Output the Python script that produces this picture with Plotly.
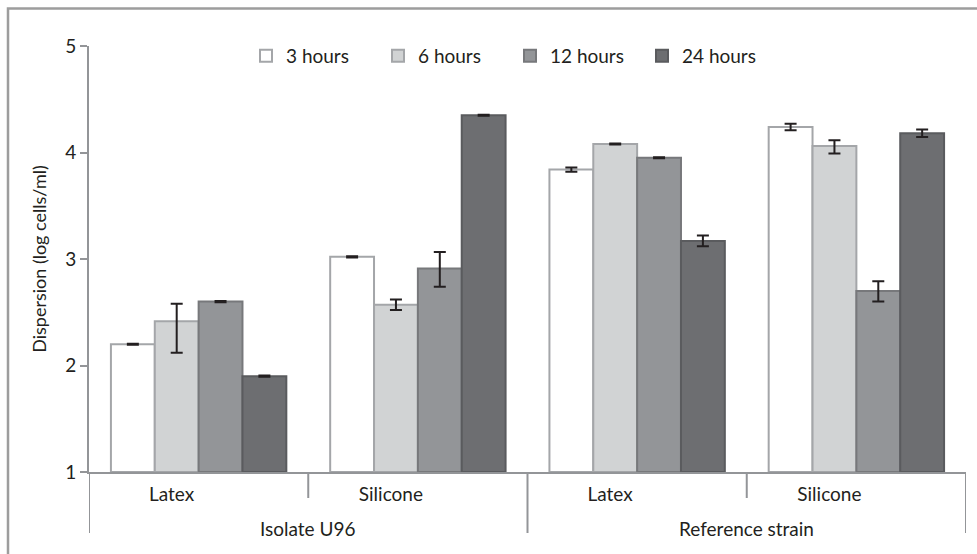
import plotly.graph_objects as go

# Strains and surfaces (two-level category axis)
strains = ["Isolate U96", "Isolate U96", "Reference strain", "Reference strain"]
surfaces = ["Latex", "Silicone", "Latex", "Silicone"]

# Dispersion (log cells/ml) per sampling time, with upper/lower error
series_names = ["3 hours", "6 hours", "12 hours", "24 hours"]
vals_3h = [2.20, 3.02, 3.84, 4.24]
vals_6h = [2.415, 2.57, 4.08, 4.06]
vals_12h = [2.60, 2.91, 3.95, 2.70]
vals_24h = [1.90, 4.35, 3.17, 4.18]
err_up_3h = [0.005, 0.005, 0.02, 0.03]
err_up_6h = [0.165, 0.05, 0.005, 0.055]
err_up_12h = [0.005, 0.155, 0.005, 0.09]
err_up_24h = [0.005, 0.005, 0.05, 0.035]
err_dn_3h = [0.005, 0.005, 0.02, 0.03]
err_dn_6h = [0.295, 0.05, 0.005, 0.07]
err_dn_12h = [0.005, 0.17, 0.005, 0.10]
err_dn_24h = [0.005, 0.005, 0.05, 0.035]

y_ticks = [1, 2, 3, 4, 5]
y_floor = 1

fills = ["#ffffff", "#d1d3d4", "#939598", "#6d6e71"]
outlines = ["#a4a6a9", "#a4a6a9", "#77787b", "#5a5b5e"]
axis_grey = "#939598"
font_family = "Lato, 'Open Sans', sans-serif"

W, H = 977, 554
ML, MR, MT, MB = 89, 11, 46, 82
pw, ph = W - ML - MR, H - MT - MB


def px_x(p):
    return (p - ML) / pw


def px_y(p):
    return (H - MB - p) / ph


pos = list(range(len(surfaces)))

fig = go.Figure()
for name, vals, eu, ed, fc, lc in zip(
    series_names,
    [vals_3h, vals_6h, vals_12h, vals_24h],
    [err_up_3h, err_up_6h, err_up_12h, err_up_24h],
    [err_dn_3h, err_dn_6h, err_dn_12h, err_dn_24h],
    fills, outlines,
):
    fig.add_trace(go.Bar(
        name=name,
        x=pos,
        y=[v - y_floor for v in vals],   # bar height measured from the axis floor
        base=y_floor,
        marker=dict(color=fc, line=dict(color=lc, width=2)),
        error_y=dict(type="data", symmetric=False, array=eu, arrayminus=ed,
                     color="#231f20", thickness=2, width=6),
    ))

# short separators between surfaces, long ones between strains
for b in range(1, len(surfaces)):
    if strains[b] == strains[b - 1]:
        fig.add_shape(type="line", xref="x", yref="paper", x0=b - 0.5, x1=b - 0.5,
                      y0=0, y1=px_y(498), line=dict(color=axis_grey, width=2))
groups = []
for i, s in enumerate(strains):
    if not groups or groups[-1][0] != s:
        groups.append([s, i, i])
    else:
        groups[-1][2] = i
edges = sorted({g[1] - 0.5 for g in groups} | {g[2] + 0.5 for g in groups})
for e in edges:
    fig.add_shape(type="line", xref="x", yref="paper", x0=e, x1=e,
                  y0=0, y1=px_y(533), line=dict(color=axis_grey, width=2))
for s, i0, i1 in groups:
    fig.add_annotation(x=(i0 + i1) / 2, xref="x", y=px_y(528), yref="paper",
                       text=s, showarrow=False, yanchor="middle",
                       font=dict(size=19, color="#231f20"))

# page frame (top and left edges)
fig.add_shape(type="path", xref="paper", yref="paper",
              path=f"M {px_x(8)} {px_y(560)} L {px_x(8)} {px_y(8.5)} L {px_x(990)} {px_y(8.5)}",
              line=dict(color="#9d9d9d", width=2.5))

fig.update_layout(
    width=W, height=H,
    margin=dict(l=ML, r=MR, t=MT, b=MB),
    barmode="group", bargap=0.2, bargroupgap=0,
    plot_bgcolor="white", paper_bgcolor="white",
    font=dict(family=font_family, size=19, color="#231f20"),
    showlegend=True,
    legend=dict(orientation="h", x=px_x(246), xanchor="left", y=px_y(56), yanchor="middle",
                entrywidth=87, entrywidthmode="pixels",
                font=dict(size=19), bgcolor="rgba(0,0,0,0)", traceorder="normal"),
    xaxis=dict(
        range=[-0.5, len(surfaces) - 0.5], tickvals=pos, ticktext=surfaces,
        showline=True, linecolor=axis_grey, linewidth=2, ticks="",
        tickfont=dict(size=19), ticklabelstandoff=4, ticklabelshift=-27,
        showgrid=False, zeroline=False,
    ),
    yaxis=dict(
        range=[1, 5], tickvals=y_ticks, ticktext=[str(t) for t in y_ticks],
        showline=True, linecolor=axis_grey, linewidth=2,
        ticks="outside", ticklen=7, tickwidth=2, tickcolor=axis_grey,
        showgrid=False, zeroline=False, tickfont=dict(size=19),
        title=dict(text="Dispersion (log cells/ml)", font=dict(size=18), standoff=14),
    ),
)

fig.write_html("out.html")
